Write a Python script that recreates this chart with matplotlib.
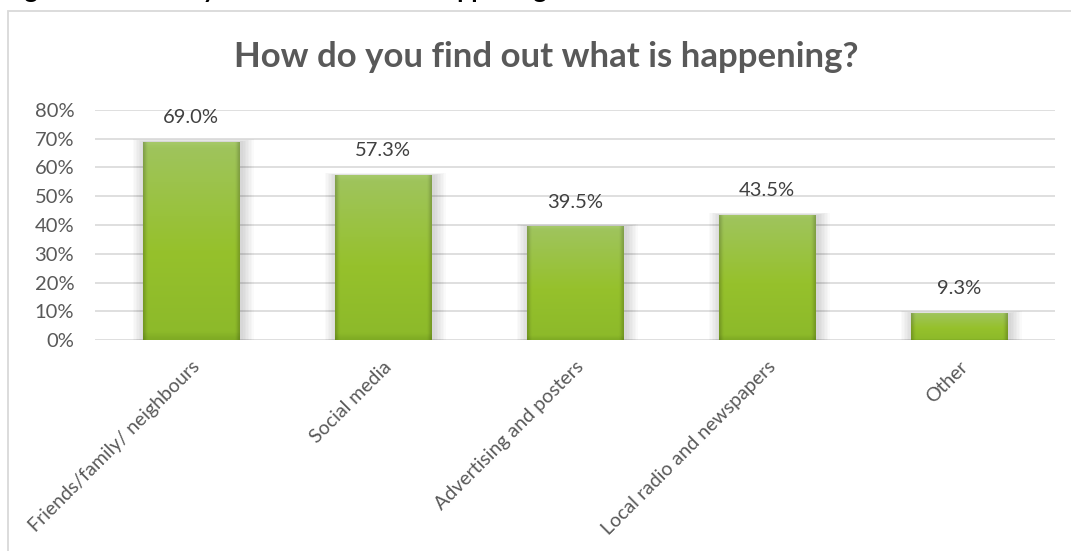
import numpy as np
import matplotlib
matplotlib.use("Agg")
import matplotlib.pyplot as plt
from matplotlib.patches import Rectangle
from matplotlib.colors import LinearSegmentedColormap

categories = ["Friends/family/ neighbours", "Social media", "Advertising and posters",
              "Local radio and newspapers", "Other"]
values = [69.0, 57.3, 39.5, 43.5, 9.3]
y_ticks = [0, 10, 20, 30, 40, 50, 60, 70, 80]

TEXT = "#595959"
FONT = "Lato"

W, H = 1071, 551
fig = plt.figure(figsize=(W / 100, H / 100), dpi=100)
fig.patch.set_facecolor("white")

# outer chart frame
frame = Rectangle((8 / W, -0.1), 1.2, 1 - 11 / H + 0.1, transform=fig.transFigure,
                  fill=False, edgecolor="#d9d9d9", linewidth=1.3)
fig.add_artist(frame)

# caption line above the chart (clipped by the page edge)
fig.text(4 / W, 1 + 1.5 / H, "Figure 5: How do you find out what is happening?",
         ha="left", va="baseline", fontsize=18, fontweight="bold",
         family=FONT, color="black")

fig.text(546 / W, 1 - 57 / H, "How do you find out what is happening?",
         ha="center", va="center", fontsize=25, fontweight="bold",
         family=FONT, color=TEXT)

ax = fig.add_axes([95 / W, 1 - 340 / H, 960 / W, 230 / H])
ax.set_xlim(-0.5, len(categories) - 0.5)
ax.set_ylim(0, 80)
for s in ax.spines.values():
    s.set_visible(False)
ax.set_yticks(y_ticks)
ax.set_yticklabels([f"{t}%" for t in y_ticks], family=FONT, fontsize=14.5, color=TEXT)
ax.tick_params(axis="y", length=0, pad=15)
ax.yaxis.grid(True, color="#d9d9d9", linewidth=1.2)
ax.set_axisbelow(True)

x = np.arange(len(categories))
bw = 0.505
bars = ax.bar(x, values, width=bw, color="none", edgecolor="none", zorder=3)

# soft shadow behind each bar
for b in bars:
    x0, w, h = b.get_x(), b.get_width(), b.get_height()
    for i in range(1, 9):
        d = i * 0.013
        ax.add_patch(Rectangle((x0 - d * 0.6 + 0.012, 0), w + d * 1.2, h + i * 0.1,
                               facecolor="#000000", alpha=0.02, edgecolor="none",
                               zorder=2, clip_on=False))

# vertical green gradient with darker side edges
vert = LinearSegmentedColormap.from_list(
    "g", [(0.0, "#7fab24"), (0.04, "#8dba2a"), (0.45, "#96c12c"), (0.97, "#9fc45c"), (1.0, "#a6c96a")])
nx, ny = 60, 200
yy = np.linspace(0, 1, ny)[:, None]
xx = np.linspace(0, 1, nx)[None, :]
base = vert(np.repeat(yy, nx, axis=1))
edge = np.clip(1 - np.minimum(xx, 1 - xx) / 0.04, 0, 1) * 0.18
shade = base.copy()
shade[..., :3] = base[..., :3] * (1 - edge[..., None])
for b in bars:
    x0, w, h = b.get_x(), b.get_width(), b.get_height()
    im = ax.imshow(shade, extent=(x0, x0 + w, 0, h), origin="lower",
                   aspect="auto", zorder=4, interpolation="bilinear")
    im.set_clip_path(b)

for xi, v in zip(x, values):
    ax.annotate(f"{v:.1f}%", (xi, v), xytext=(0, 17.5), textcoords="offset points",
                ha="center", va="center", family=FONT, fontsize=14.5, color="#404040",
                zorder=5)

ax.set_xticks(x)
ax.set_xticklabels(categories, rotation=45, ha="right", rotation_mode="anchor",
                   family=FONT, fontsize=14, color=TEXT)
ax.tick_params(axis="x", length=0, pad=13)

ax.set_xlim(-0.5, len(categories) - 0.5)
fig.savefig("out.png", dpi=100, facecolor="white")
